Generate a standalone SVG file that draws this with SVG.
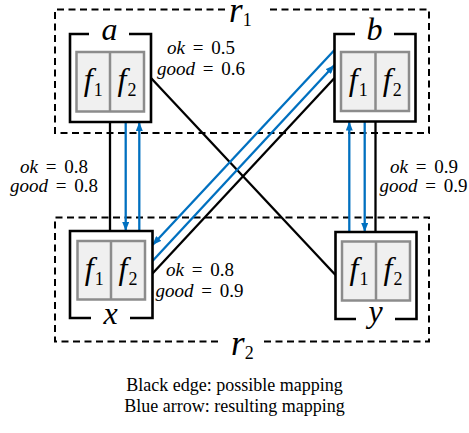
<svg xmlns="http://www.w3.org/2000/svg" width="469" height="433" viewBox="0 0 469 433">
<style>
.box{fill:#fff;stroke:#000;stroke-width:2.6;stroke-linejoin:miter}
.cell{fill:#f0f0f0;stroke:#8c8c8c;stroke-width:2.5}
.div{stroke:#8c8c8c;stroke-width:2.5}
.region{fill:none;stroke:#000;stroke-width:2;stroke-dasharray:7,4.5}
.edge{stroke:#000;stroke-width:2.3;fill:none}
.res{stroke:#0070c0;stroke-width:2.3;fill:none}
.math{font-family:"Liberation Serif","Times New Roman",serif;font-size:19px;fill:#000}
.it{font-style:italic}
.lbl{font-family:"Liberation Serif","Times New Roman",serif;font-style:italic;font-size:32px;fill:#000}
.f{font-family:"Liberation Serif","Times New Roman",serif;font-style:italic;font-size:32px;fill:#000}
.sub{font-style:normal;font-size:18px}
.reg{font-family:"Liberation Serif","Times New Roman",serif;font-style:italic;font-size:35px;fill:#000}
.cap{font-family:"Liberation Serif","Times New Roman",serif;font-size:18px;fill:#000}
</style>
<defs>
<marker id="ah" markerUnits="userSpaceOnUse" markerWidth="9" markerHeight="7" refX="9" refY="3.5" orient="auto">
<path d="M0,0 L9,3.5 L0,7 z" fill="#0070c0"/>
</marker>
</defs>

<g id="region-r1">
<path class="region" d="M225,9.5 H55 V133 H429 V9.5 H268"/>
<text class="reg" x="229" y="22">r<tspan class="sub" font-size="20" dy="4">1</tspan></text>
</g>
<g id="region-r2">
<path class="region" d="M218,341.5 H55 V217.5 H429 V341.5 H263"/>
<text class="reg" x="231" y="355">r<tspan class="sub" font-size="20" dy="4">2</tspan></text>
</g>

<g id="connectors">
<line class="edge" x1="110" y1="122" x2="110" y2="231"/>
<line class="res" x1="125.7" y1="122" x2="125.7" y2="231" marker-end="url(#ah)"/>
<line class="res" x1="139.3" y1="231" x2="139.3" y2="122" marker-end="url(#ah)"/>
<line class="edge" x1="375.5" y1="121.5" x2="375.5" y2="232"/>
<line class="res" x1="349.3" y1="232" x2="349.3" y2="121.5" marker-end="url(#ah)"/>
<line class="res" x1="364.7" y1="121.5" x2="364.7" y2="232" marker-end="url(#ah)"/>
<line class="edge" x1="151" y1="78" x2="335.5" y2="275"/>
<line class="edge" x1="152.5" y1="273.5" x2="334.5" y2="78"/>
<line class="res" x1="334.5" y1="50" x2="152.5" y2="245" marker-end="url(#ah)"/>
<line class="res" x1="152.5" y1="261" x2="334.5" y2="65" marker-end="url(#ah)"/>
<text class="math" x="201" y="54" text-anchor="middle"><tspan class="it">ok</tspan> <tspan dx="3">=</tspan> <tspan dx="3">0.5</tspan></text>
<text class="math" x="201" y="75" text-anchor="middle"><tspan class="it">good</tspan> <tspan dx="3">=</tspan> <tspan dx="3">0.6</tspan></text>
<text class="math" x="54" y="173" text-anchor="middle"><tspan class="it">ok</tspan> <tspan dx="3">=</tspan> <tspan dx="3">0.8</tspan></text>
<text class="math" x="54" y="192" text-anchor="middle"><tspan class="it">good</tspan> <tspan dx="3">=</tspan> <tspan dx="3">0.8</tspan></text>
<text class="math" x="424" y="173" text-anchor="middle"><tspan class="it">ok</tspan> <tspan dx="3">=</tspan> <tspan dx="3">0.9</tspan></text>
<text class="math" x="423.5" y="192" text-anchor="middle"><tspan class="it">good</tspan> <tspan dx="3">=</tspan> <tspan dx="3">0.9</tspan></text>
<text class="math" x="200" y="276" text-anchor="middle"><tspan class="it">ok</tspan> <tspan dx="3">=</tspan> <tspan dx="3">0.8</tspan></text>
<text class="math" x="199.5" y="297" text-anchor="middle"><tspan class="it">good</tspan> <tspan dx="3">=</tspan> <tspan dx="3">0.9</tspan></text>
</g>

<g id="node-a">
<path class="box" d="M89,34 H70 V122 H151 V34 H129"/>
<rect class="cell" x="76.5" y="52" width="67.5" height="59.5"/>
<line class="div" x1="110" y1="52" x2="110" y2="111.5"/>
<text class="f" x="93.3" y="90" text-anchor="middle">f<tspan class="sub" dx="1" dy="6">1</tspan></text>
<text class="f" x="127" y="90" text-anchor="middle">f<tspan class="sub" dx="1" dy="6">2</tspan></text>
<text class="lbl" x="109.5" y="40" text-anchor="middle">a</text>
</g>

<g id="node-b">
<path class="box" d="M355,34 H334.5 V121.5 H415.5 V34 H394"/>
<rect class="cell" x="341" y="52" width="68" height="59"/>
<line class="div" x1="375.5" y1="52" x2="375.5" y2="111"/>
<text class="f" x="358.2" y="90" text-anchor="middle">f<tspan class="sub" dx="1" dy="6">1</tspan></text>
<text class="f" x="392.2" y="90" text-anchor="middle">f<tspan class="sub" dx="1" dy="6">2</tspan></text>
<text class="lbl" x="374.5" y="40" text-anchor="middle">b</text>
</g>

<g id="node-x">
<path class="box" d="M91,318 H70 V231 H152.5 V318 H130"/>
<rect class="cell" x="77.5" y="241" width="67.5" height="58.5"/>
<line class="div" x1="111" y1="241" x2="111" y2="299.5"/>
<text class="f" x="94.2" y="278.5" text-anchor="middle">f<tspan class="sub" dx="1" dy="6">1</tspan></text>
<text class="f" x="128" y="278.5" text-anchor="middle">f<tspan class="sub" dx="1" dy="6">2</tspan></text>
<text class="lbl" x="110.5" y="324" text-anchor="middle">x</text>
</g>

<g id="node-y">
<path class="box" d="M356,319 H335.5 V232 H416.5 V319 H395"/>
<rect class="cell" x="342" y="241.5" width="68" height="59"/>
<line class="div" x1="376" y1="241.5" x2="376" y2="300.5"/>
<text class="f" x="359" y="279" text-anchor="middle">f<tspan class="sub" dx="1" dy="6">1</tspan></text>
<text class="f" x="393" y="279" text-anchor="middle">f<tspan class="sub" dx="1" dy="6">2</tspan></text>
<text class="lbl" x="375.5" y="322" text-anchor="middle">y</text>
</g>

<g id="caption">
<text class="cap" x="234.5" y="391" text-anchor="middle">Black edge: possible mapping</text>
<text class="cap" x="234.5" y="412" text-anchor="middle">Blue arrow: resulting mapping</text>
</g>
</svg>
